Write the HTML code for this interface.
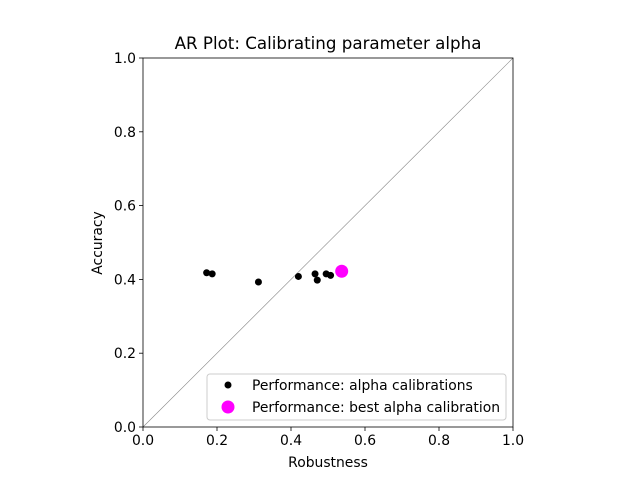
<!DOCTYPE html>
<html><head><style>
body{margin:0;background:#fff;font-family:"Liberation Sans","DejaVu Sans",sans-serif;}
svg text{font-family:"DejaVu Sans","Liberation Sans",sans-serif;}
</style></head><body>
<svg id="c" width="640" height="480" xmlns="http://www.w3.org/2000/svg"></svg>
<script>
const robustness=[0.172,0.187,0.312,0.420,0.465,0.471,0.495,0.507];
const accuracy=[0.418,0.415,0.393,0.408,0.415,0.398,0.415,0.411];
const bestRobustness=[0.537];
const bestAccuracy=[0.422];
const ticks=[0,0.2,0.4,0.6,0.8,1.0];
const tickLabels=["0.0","0.2","0.4","0.6","0.8","1.0"];
const L=143,R=513,T=58,B=427;
const sx=v=>L+v*(R-L), sy=v=>B-v*(B-T);
const s=document.getElementById('c');
const NS="http://www.w3.org/2000/svg";
function el(tag,a,txt){const e=document.createElementNS(NS,tag);for(const k in a)e.setAttribute(k,a[k]);if(txt!=null)e.textContent=txt;s.appendChild(e);return e;}
let e;
e=el('line',{x1:sx(0),y1:sy(0),x2:sx(1),y2:sy(1),stroke:'#888','stroke-width':0.6});


ticks.forEach((t,i)=>{
 e=el('line',{x1:sx(t),y1:B,x2:sx(t),y2:B+4,stroke:'#000','stroke-width':0.8});
 
 
 e=el('text',{x:sx(t),y:B+18,'font-size':13.9,'text-anchor':'middle'},tickLabels[i]);
 
 
 e=el('line',{x1:L-4,y1:sy(t),x2:L,y2:sy(t),stroke:'#000','stroke-width':0.8});
 
 
 e=el('text',{x:L-7,y:sy(t)+5,'font-size':13.9,'text-anchor':'end'},tickLabels[i]);
 
 
});
robustness.forEach((r,i)=>{
 e=el('circle',{cx:sx(r),cy:sy(accuracy[i]),r:3.5,fill:'#000'});
 
 
});
bestRobustness.forEach((r,i)=>{
 e=el('circle',{cx:sx(r),cy:sy(bestAccuracy[i]),r:6.5,fill:'#ff00ff'});
 
 
});
e=el('rect',{x:L,y:T,width:R-L,height:B-T,fill:'none',stroke:'#000','stroke-width':0.8});


e=el('text',{x:(L+R)/2,y:49,'font-size':16.7,'text-anchor':'middle'},'AR Plot: Calibrating parameter alpha');


e=el('text',{x:(L+R)/2,y:467,'font-size':13.9,'text-anchor':'middle'},'Robustness');


e=el('text',{x:0,y:0,'font-size':13.9,'text-anchor':'middle',transform:'translate(102,243) rotate(-90)'},'Accuracy');


e=el('rect',{x:207,y:374,width:299,height:46,rx:3,fill:'#fff',stroke:'#ccc','stroke-width':1});


e=el('circle',{cx:228,cy:385,r:3.5,fill:'#000'});


e=el('text',{x:252,y:390,'font-size':13.9},'Performance: alpha calibrations');


e=el('circle',{cx:228,cy:407,r:6.5,fill:'#ff00ff'});


e=el('text',{x:252,y:412,'font-size':13.9},'Performance: best alpha calibration');


</script>
</body></html>
